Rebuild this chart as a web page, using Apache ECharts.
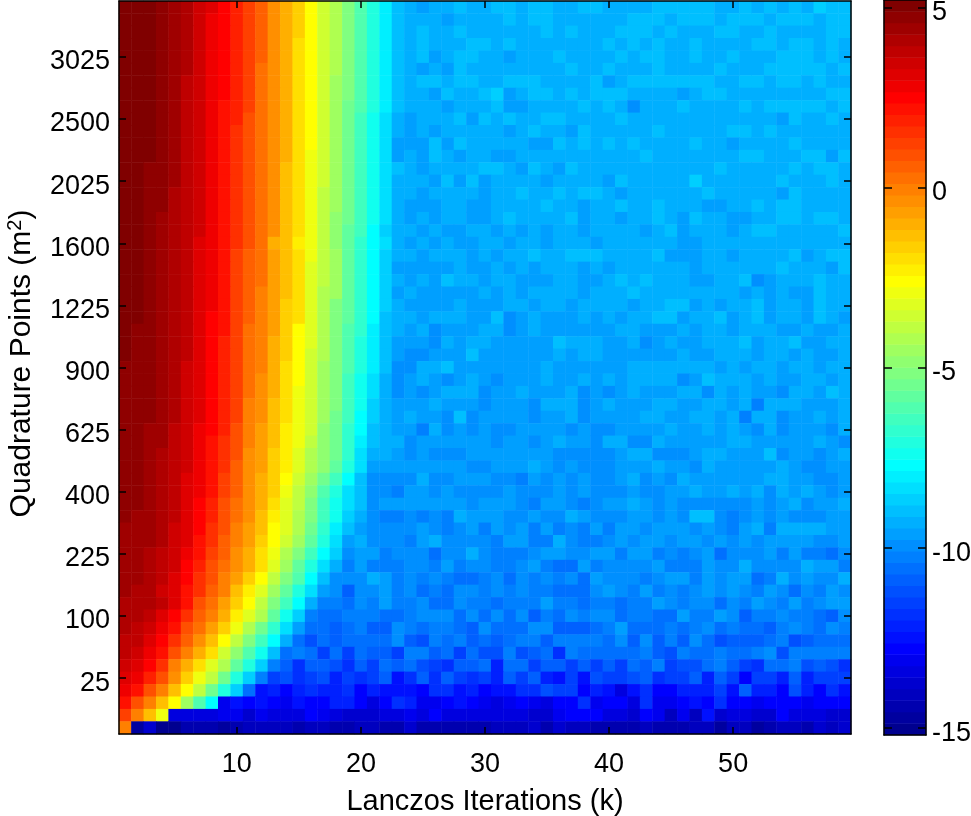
<!DOCTYPE html>
<html><head><meta charset="utf-8">
<style>html,body{margin:0;padding:0;background:#fff}#c{width:971px;height:816px}</style>
<script src="https://cdn.jsdelivr.net/npm/echarts@6/dist/echarts.min.js"></script>
</head><body><div id="c"></div>
<script>
const xName = 'Lanczos Iterations (k)';
const cbMin = -15.19, cbMax = 5.22, levelCount = 64;
const iterations = Array.from({length:59},(_, i)=>i+1);
const quadPoints = Array.from({length:59},(_, i)=>(i+1)*(i+1));
const colorbarTicks = [-15,-10,-5,0,5];
// colour-level index (0..63 of the bar) read per cell; first line = top row (m=59), last = bottom row (m=1)
const cellLevels = [
[63,63,63,62,61,60,58,57,55,53,51,49,46,44,42,39,36,34,31,28,25,22, 19,18,17,18,18,19,18,18,19,19,18,19,19,18,18,19,19,18, 18,18,18,19,19,19,19,19,18,18,19,18,19,18,19,18,20,19,19],
[63,63,63,62,61,60,58,56,55,53,51,49,46,44,42,39,36,34,31,28,25,22, 19,18,18,18,17,18,18,18,18,19,18,19,19,18,18,18,18,18, 18,19,19,19,18,19,19,19,18,19,19,19,18,19,19,19,18,19,19],
[63,63,63,62,61,60,58,56,55,53,51,49,46,44,42,39,36,34,31,28,25,22, 19,18,19,18,18,19,18,18,18,18,18,18,19,18,19,18,18,18, 19,19,19,18,19,18,18,18,19,19,18,18,19,18,18,18,18,19,19],
[63,63,63,62,61,60,58,56,55,53,51,49,46,44,41,39,36,34,31,28,25,22, 19,18,19,18,18,18,19,19,18,19,18,18,18,18,18,18,18,19, 18,19,18,19,18,18,19,18,18,18,18,19,19,18,19,19,18,19,18],
[63,63,63,62,61,60,58,56,55,53,51,49,46,44,41,39,36,34,31,28,25,22, 19,18,19,17,18,19,19,18,18,17,18,18,18,19,18,18,18,18, 19,18,19,19,18,18,19,18,18,19,18,18,18,19,19,19,18,19,18],
[63,63,63,62,61,60,58,56,55,53,51,48,46,44,41,39,36,34,31,28,25,22, 19,18,17,18,17,19,18,18,18,18,18,18,18,18,19,18,18,19, 18,18,18,19,18,18,18,18,19,18,18,18,19,19,19,19,19,18,19],
[63,63,63,62,61,59,58,56,55,53,51,48,46,44,41,39,36,33,31,28,25,22, 19,18,19,19,18,19,19,18,18,19,19,19,18,18,18,18,19,17, 18,19,19,19,19,19,19,19,18,18,19,19,18,19,19,18,19,18,18],
[63,63,63,62,61,59,58,56,55,53,51,48,46,44,41,39,36,33,31,28,25,22, 19,18,18,17,19,18,18,19,20,17,18,19,19,18,19,18,19,19, 19,18,18,18,18,17,18,19,19,18,18,18,18,18,18,18,18,19,19],
[63,63,63,62,61,59,58,56,54,53,51,48,46,44,41,39,36,33,30,28,25,22, 19,18,18,18,17,18,18,18,19,17,17,18,18,18,18,19,18,19, 18,16,18,18,18,19,18,18,18,18,19,18,19,19,19,19,19,18,19],
[63,63,63,62,61,59,58,56,54,53,50,48,46,44,41,39,36,33,30,27,24,21, 18,17,18,18,18,19,17,19,18,19,18,18,19,19,18,18,18,18, 19,18,18,18,18,18,18,18,18,18,18,18,18,17,19,18,18,19,18],
[63,63,63,62,61,59,58,56,54,52,50,48,46,44,41,39,36,33,30,27,24,21, 18,17,18,17,18,18,18,18,18,17,18,19,18,18,17,19,18,18, 18,18,18,19,18,18,18,18,18,19,19,18,19,18,18,18,18,18,18],
[63,63,63,62,61,59,58,56,54,52,50,48,46,44,41,39,36,33,30,27,24,21, 17,17,17,19,17,19,18,18,18,18,18,17,17,19,18,19,18,19, 18,19,18,18,18,18,19,18,18,17,18,18,18,18,19,18,18,18,18],
[63,63,63,62,61,59,58,56,54,52,50,48,46,44,41,38,36,33,30,27,24,21, 17,18,17,19,18,17,18,18,17,17,18,18,18,18,18,18,18,18, 18,18,19,18,18,18,18,18,18,18,19,19,18,18,18,19,19,17,19],
[63,63,62,62,61,59,58,56,54,52,50,48,46,43,41,38,36,33,30,27,24,21, 19,18,17,18,18,18,18,19,19,18,17,19,18,17,19,18,18,18, 18,18,18,18,18,18,18,18,19,18,18,18,18,18,19,18,19,19,18],
[63,63,62,62,61,59,58,56,54,52,50,48,46,43,41,38,36,33,30,27,24,21, 18,18,18,17,19,17,19,17,18,18,18,18,17,18,18,18,18,17, 19,18,18,18,18,18,20,18,18,18,18,18,18,19,18,18,18,19,18],
[63,63,62,62,60,59,58,56,54,52,50,48,46,43,41,38,35,33,30,27,24,21, 18,18,17,18,18,18,18,17,18,18,19,18,18,19,18,19,19,18, 17,18,18,18,18,18,18,19,18,18,18,18,18,17,19,18,18,18,18],
[63,63,62,62,60,59,58,56,54,52,50,48,46,43,41,38,35,33,30,27,24,21, 18,17,17,17,18,18,17,17,18,18,18,18,19,18,18,17,18,18, 19,18,18,19,18,18,18,17,17,18,18,19,18,19,19,18,18,18,18],
[63,63,62,61,60,59,58,56,54,52,50,48,46,43,41,38,35,32,30,27,24,21, 18,17,18,17,18,18,17,17,18,19,18,18,18,18,19,17,18,18, 17,18,18,19,18,17,19,18,18,17,17,18,18,19,19,18,19,19,18],
[63,63,62,61,60,59,58,56,54,52,50,48,46,43,41,38,35,32,29,27,23,20, 18,18,17,18,17,17,18,18,17,18,17,18,17,18,18,17,18,18, 18,18,17,18,19,17,18,18,18,17,18,19,19,18,18,18,18,18,19],
[63,63,62,61,60,59,57,56,54,52,50,48,44,43,40,38,35,32,29,26,23,21, 18,17,18,17,18,17,17,18,18,17,18,18,17,18,18,18,17,18, 18,18,18,18,18,17,17,18,18,18,18,18,18,18,18,18,18,18,18],
[63,63,62,61,60,59,57,56,54,51,49,48,45,43,41,38,35,33,29,26,23,20, 18,18,17,18,18,18,17,18,17,18,18,19,18,18,19,19,19,18, 18,18,18,19,17,17,17,18,18,17,18,18,18,18,19,17,18,19,19],
[63,63,62,61,60,59,57,56,54,51,49,48,45,43,41,37,35,33,29,26,23,20, 17,17,17,17,17,18,17,17,18,17,18,17,18,18,18,17,18,17, 18,18,18,18,18,18,17,18,18,18,18,18,18,19,18,18,18,17,19],
[63,63,62,61,60,59,57,56,54,51,49,48,45,43,41,37,35,33,29,26,23,20, 18,17,18,17,19,18,18,17,18,18,17,17,17,18,18,17,17,18, 19,18,19,18,18,18,17,17,18,18,19,16,17,18,18,18,19,18,18],
[63,63,62,61,60,59,57,56,54,51,49,47,45,43,41,37,34,33,29,26,23,20, 17,18,17,17,17,17,17,18,17,18,17,18,18,18,18,17,18,18, 18,19,18,18,18,18,18,18,18,18,17,18,17,18,17,17,19,18,18],
[63,63,62,61,60,59,57,56,54,51,49,47,45,42,41,37,34,31,29,26,23,20, 18,17,17,17,17,18,17,17,17,18,18,17,18,18,17,18,18,18, 18,17,18,18,19,19,17,18,17,18,18,19,17,18,18,17,19,18,18],
[63,63,62,61,60,59,57,55,54,51,49,47,45,42,41,37,34,31,29,26,23,19, 18,18,17,18,18,18,17,17,19,16,17,18,17,17,17,18,17,18, 17,18,18,19,19,17,18,18,19,17,18,19,17,18,18,17,19,18,17],
[63,62,62,61,60,59,57,55,54,51,48,47,45,42,39,37,34,31,28,26,22,19, 18,17,18,16,17,17,17,18,18,16,17,18,17,17,17,17,17,17, 18,18,17,17,17,18,17,18,18,17,18,18,18,17,17,18,17,17,18],
[63,62,62,61,60,59,57,55,53,51,48,47,44,42,39,37,34,31,28,25,22,19, 17,17,17,16,18,17,18,18,17,17,17,17,17,19,18,18,18,17, 17,18,16,17,18,17,17,18,18,18,19,17,18,18,19,17,17,18,18],
[63,62,62,61,60,59,57,55,53,51,48,47,44,42,39,36,34,31,28,25,22,19, 17,16,16,17,17,17,19,17,17,17,17,17,17,18,17,18,18,17, 17,17,17,17,17,18,17,17,18,18,18,17,18,18,17,18,17,17,18],
[62,62,62,61,60,58,57,55,53,51,48,47,44,41,39,36,33,31,28,25,22,19, 16,16,18,18,19,17,17,17,17,17,17,17,18,17,17,17,17,17, 17,18,18,18,18,18,18,18,17,18,17,18,18,17,18,18,17,18,18],
[62,62,62,61,60,58,57,55,53,51,48,46,44,41,39,36,33,31,27,24,21,18, 16,17,18,17,16,17,18,17,16,17,17,17,18,17,17,18,17,18, 17,18,18,18,18,16,17,19,18,18,18,17,18,17,17,18,18,17,18],
[62,62,62,61,60,58,57,55,53,51,48,46,44,41,38,36,33,31,27,24,21,18, 16,17,16,17,18,18,18,16,17,17,18,17,17,17,18,16,17,16, 17,18,17,17,17,18,18,16,18,17,18,17,17,16,18,18,17,19,18],
[62,62,62,61,60,58,57,55,53,51,47,46,43,41,38,36,33,31,27,24,20,18, 17,17,17,18,17,17,17,16,17,17,17,16,18,18,18,16,17,18, 17,17,17,18,18,17,17,18,18,17,18,15,18,18,18,17,17,17,18],
[62,62,62,61,60,58,57,55,53,51,47,46,43,41,38,36,33,30,27,23,20,18, 17,18,17,17,16,19,16,17,17,17,17,16,17,17,18,16,17,17, 17,17,18,18,17,17,18,18,17,18,15,18,18,16,17,17,18,17,18],
[62,62,61,61,59,58,56,55,53,50,47,45,43,40,38,36,32,30,26,23,19,18, 17,17,15,18,16,17,16,17,16,16,17,17,17,17,16,17,16,16, 17,17,17,17,18,17,17,18,17,18,17,16,18,16,17,17,17,16,18],
[62,62,61,61,59,58,56,54,52,50,47,45,43,40,38,35,32,30,26,22,19,18, 18,16,17,17,17,17,17,17,16,17,17,16,17,18,17,17,16,18, 18,16,16,18,17,17,17,17,17,18,18,17,17,17,17,17,18,17,16],
[62,62,61,60,59,58,56,54,52,50,46,45,42,40,37,34,32,30,26,21,18,18, 17,16,17,16,16,16,17,17,17,17,17,17,17,16,16,16,16,16, 17,18,18,16,16,16,17,18,18,17,17,17,19,16,17,17,16,17,18],
[62,62,61,60,59,58,56,54,52,49,46,45,42,40,37,34,32,29,25,21,17,17, 17,17,17,17,17,17,16,16,17,17,17,18,17,16,17,16,16,16, 17,17,17,18,17,17,16,18,17,17,17,17,17,18,17,16,16,17,17],
[62,62,61,60,59,57,56,54,51,49,46,44,42,39,36,33,30,27,23,19,16,16, 16,16,18,16,16,17,17,17,16,16,15,17,16,17,16,17,16,16, 17,18,16,17,16,18,17,17,17,17,17,17,18,18,17,17,16,16,17],
[62,62,61,60,59,57,56,54,51,49,46,44,42,38,35,32,28,25,21,19,16,16, 15,17,17,16,17,16,16,16,16,17,16,16,16,17,16,17,16,16, 16,17,16,16,17,17,18,17,17,18,17,18,16,18,17,18,17,16,17],
[62,62,61,60,59,57,55,53,50,48,46,44,41,37,35,31,27,24,21,19,16,17, 17,17,17,17,17,17,16,17,17,17,16,15,17,17,16,15,16,17, 17,18,17,16,17,16,16,16,16,16,16,17,16,17,18,16,17,17,18],
[62,61,61,60,59,57,55,53,50,48,46,43,40,37,34,31,27,24,20,18,16,15, 15,16,15,16,15,18,17,17,17,16,16,17,16,16,18,17,16,16, 16,17,17,16,17,16,19,19,16,15,16,17,16,17,16,16,16,17,17],
[61,61,61,60,58,57,55,52,50,47,45,43,39,37,34,30,26,22,19,17,16,16, 16,16,17,16,15,16,17,15,17,16,17,15,17,15,16,15,17,15, 17,17,16,17,17,17,16,17,16,15,17,18,15,18,18,18,18,17,17],
[61,61,61,60,58,57,54,52,49,47,45,42,39,36,33,29,25,21,17,18,16,16, 16,15,17,18,16,16,16,16,15,17,17,15,15,18,16,15,15,16, 17,16,17,17,16,17,17,16,17,16,17,16,17,17,17,17,16,16,17],
[61,61,60,59,58,56,54,51,49,46,44,41,38,34,31,27,23,20,16,17,17,15, 16,16,16,14,16,16,18,16,15,15,15,16,17,17,16,16,17,17, 15,17,17,15,16,15,16,17,14,16,16,16,17,15,17,15,15,14,16],
[61,61,60,59,58,55,53,50,48,46,44,41,37,33,29,25,21,18,15,17,15,15, 15,16,16,15,17,15,16,16,15,15,16,17,15,14,14,17,15,16, 16,16,16,17,15,15,15,17,16,16,18,16,16,16,16,18,17,17,15],
[61,61,60,59,57,55,52,50,47,45,42,39,35,31,28,23,19,16,16,16,18,17, 15,16,15,16,15,14,14,15,16,14,16,15,16,15,16,14,17,16, 16,16,15,16,17,17,15,17,16,17,17,14,15,18,16,17,16,16,18],
[61,60,60,58,57,54,52,49,47,43,40,37,33,29,25,21,17,16,13,16,16,17, 15,16,14,15,14,16,16,15,16,15,16,15,15,14,14,14,16,17, 16,15,17,15,16,15,16,17,16,17,16,15,17,16,14,16,15,17,16],
[60,60,60,59,57,54,50,48,45,42,39,35,31,27,23,18,15,15,14,16,15,17, 15,15,16,14,14,16,15,15,14,15,15,15,17,15,15,14,15,15, 14,15,15,17,16,15,16,16,14,16,15,17,16,15,17,15,16,17,17],
[60,60,59,57,55,52,49,47,44,40,37,34,29,24,20,15,14,14,15,15,15,14, 14,15,16,16,16,14,16,14,16,14,16,13,15,14,16,15,16,16, 14,15,15,14,14,17,15,15,17,16,13,15,15,16,15,15,14,13,16],
[60,59,58,56,54,50,48,45,42,38,34,30,26,21,17,14,14,13,14,15,13,13, 16,15,14,15,15,14,13,16,14,14,14,16,16,13,13,13,14,15, 17,14,14,14,15,14,15,16,14,15,14,14,13,15,16,15,14,16,15],
[59,59,57,55,52,49,46,43,39,35,31,27,23,18,14,12,14,13,14,14,14,14, 16,13,12,15,14,15,13,14,13,14,15,15,13,15,15,15,15,14, 16,13,16,13,15,13,16,14,12,13,13,13,14,15,12,13,14,14,14],
[59,58,56,54,50,47,44,41,36,32,28,24,19,14,15,14,11,14,11,14,13,13, 11,15,15,13,14,11,14,12,12,15,12,13,14,10,15,14,14,14, 14,14,15,13,12,15,14,14,15,14,14,15,16,12,15,15,15,15,15],
[58,57,55,52,47,44,41,37,34,29,25,20,15,13,10,13,13,12,10,13,11,14, 13,14,12,11,10,13,13,14,9,14,14,11,13,13,11,13,11,13, 11,14,13,15,11,12,12,14,15,13,11,10,14,14,15,12,13,12,10],
[57,56,53,50,46,42,38,35,30,25,20,15,11,12,10,11,12,9,11,10,11,13, 8,10,13,10,13,11,10,11,9,13,11,13,9,8,11,8,12,11, 11,12,13,10,11,11,13,9,13,11,7,11,11,9,13,9,11,11,11],
[56,54,50,47,43,39,35,30,25,20,14,8,9,7,9,10,9,9,10,7,9,8, 8,8,7,10,10,8,9,7,8,8,10,10,12,11,11,7,9,8, 5,8,10,7,7,9,9,9,11,8,13,9,9,7,12,9,7,10,8],
[54,50,47,43,39,33,28,23,6,8,7,8,7,6,8,7,7,9,9,7,5,7, 10,9,6,6,7,8,7,6,5,6,7,6,5,7,7,10,6,7, 7,5,10,6,6,7,8,7,10,7,7,6,7,7,7,6,7,7,7],
[51,47,43,38,5,5,5,5,6,6,4,6,5,5,5,7,6,5,4,4,4,5, 5,6,5,7,5,5,5,5,5,5,5,4,4,6,7,7,7,5, 5,4,7,6,3,6,3,8,4,5,5,4,4,7,5,5,5,4,4],
[47,1,4,0,0,2,2,2,1,2,3,3,3,3,2,3,3,2,2,3,3,2, 2,4,2,2,2,2,2,2,3,3,3,4,2,4,3,3,2,2, 2,2,3,2,2,2,3,3,1,3,3,1,2,3,3,2,4,3,4]
];
cellLevels.forEach((r,i)=>{ if(r.length!==59) throw new Error('row '+i+' has '+r.length); });
if(cellLevels.length!==59) throw new Error('rows '+cellLevels.length);

const step = (cbMax-cbMin)/levelCount;
const levelValue = l => cbMin + (l+0.5)*step;
function jet(l){ // MATLAB jet(64)
  const p=l+1;
  const f=t=>Math.round(255*Math.max(0,Math.min(1,t)));
  const r = p<=24?0: p<=40?(p-24)/16: p<=56?1: 1-(p-56)/16;
  const g = p<=8?0: p<=24?(p-8)/16: p<=40?1: p<=56?1-(p-40)/16:0;
  const b = p<=8?(p+8)/16: p<=24?1: p<=40?1-(p-24)/16:0;
  return `rgb(${f(r)},${f(g)},${f(b)})`;
}
const palette = Array.from({length:levelCount},(_, l)=>jet(l));
const mainData = [];
cellLevels.forEach((row,i)=>{ const yi=58-i; row.forEach((l,xi)=>mainData.push([xi,yi,+levelValue(l).toFixed(3)])); });
const barLevels = Array.from({length:levelCount},(_, l)=>l);
const barData = barLevels.map(l=>[0,l,+levelValue(l).toFixed(3)]);

const font='"Liberation Sans", Arial, sans-serif';
const every=n=>((i)=>(i+1)%n===0);
const line={onZero:false,lineStyle:{color:'#000',width:1.5}};
const tickS=(n,len)=>({show:true,inside:true,length:len||7,alignWithLabel:true,interval:every(n),lineStyle:{color:'#000',width:1.5}});
const labelS={formatter:'{v|{value}}',rich:{v:{color:'#000',fontFamily:font,fontSize:27,padding:[10,0,0,0]}}};

const chart=echarts.init(document.getElementById('c'),null,{renderer:'canvas'});
chart.setOption({
  animation:false,backgroundColor:'#fff',
  grid:[{left:119,top:1,width:732,height:733,containLabel:false,outerBoundsMode:'none'},{left:884,top:0,width:42,height:735,containLabel:false,outerBoundsMode:'none'}],
  visualMap:{show:false,type:'continuous',min:levelValue(0),max:levelValue(levelCount-1),dimension:2,seriesIndex:[0,1],inRange:{color:palette}},
  xAxis:[
    {type:'category',z:10,gridIndex:0,data:iterations,position:'bottom',name:xName,nameLocation:'middle',nameGap:68,
     nameTextStyle:{color:'#000',fontFamily:font,fontSize:29,verticalAlign:'middle'},axisLine:line,axisTick:tickS(10),
     axisLabel:{color:'#000',fontFamily:font,fontSize:27,margin:17,interval:every(10)},splitLine:{show:false}},
    {type:'category',z:10,gridIndex:0,data:iterations,position:'top',axisLine:line,axisTick:tickS(10),axisLabel:{show:false},splitLine:{show:false}},
    {type:'category',z:10,gridIndex:1,data:['bar'],position:'bottom',axisLine:line,axisTick:{show:false},axisLabel:{show:false},splitLine:{show:false}},
    {type:'category',z:10,gridIndex:1,data:['bar'],position:'top',axisLine:line,axisTick:{show:false},axisLabel:{show:false},splitLine:{show:false}}
  ],
  yAxis:[
    {type:'category',z:10,gridIndex:0,data:quadPoints,position:'left',
     name:'{b|Quadrature Points (m}{s|2}{a|)}',nameLocation:'middle',nameGap:97,nameRotate:90,
     nameTextStyle:{verticalAlign:'middle',rich:{a:{color:'#000',fontFamily:font,fontSize:30},b:{color:'#000',fontFamily:font,fontSize:30,padding:[0,0,0,8]},s:{color:'#000',fontFamily:font,fontSize:20,padding:[0,0,14,0]}}},
     axisLine:line,axisTick:tickS(5),axisLabel:Object.assign({},labelS,{margin:9,interval:every(5)}),splitLine:{show:false}},
    {type:'category',z:10,gridIndex:0,data:quadPoints,position:'right',axisLine:line,axisTick:tickS(5),axisLabel:{show:false},splitLine:{show:false}},
    {type:'category',gridIndex:1,data:barLevels,show:false},
    {type:'value',z:10,gridIndex:1,position:'left',min:cbMin,max:cbMax,axisLine:Object.assign({},line,{show:true}),
     axisTick:{show:true,inside:true,length:8,customValues:colorbarTicks,lineStyle:{color:'#000',width:1.5}},axisLabel:{show:false},splitLine:{show:false}},
    {type:'value',z:10,gridIndex:1,position:'right',min:cbMin,max:cbMax,axisLine:Object.assign({},line,{show:true}),
     axisTick:{show:true,inside:true,length:8,customValues:colorbarTicks,lineStyle:{color:'#000',width:1.5}},
     axisLabel:Object.assign({},labelS,{margin:6,align:'left',customValues:colorbarTicks,showMinLabel:true,showMaxLabel:true}),splitLine:{show:false}}
  ],
  series:[
    {type:'heatmap',name:'residual',xAxisIndex:0,yAxisIndex:0,data:mainData,progressive:0,silent:true,emphasis:{disabled:true}},
    {type:'heatmap',name:'colorbar',xAxisIndex:2,yAxisIndex:2,data:barData,progressive:0,silent:true,emphasis:{disabled:true}}
  ]
});
</script></body></html>
